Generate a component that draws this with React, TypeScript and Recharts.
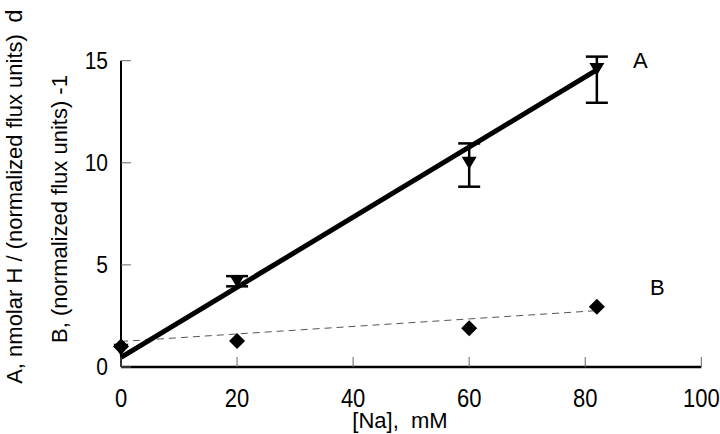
import React from "react";
import {
  ComposedChart,
  Scatter,
  Line,
  XAxis,
  YAxis,
  ErrorBar,
  ReferenceLine,
  Customized,
} from "recharts";

// Series A: nmolar H / (normalized flux units)
const seriesA = [
  { x: 0, y: 0.85 },
  { x: 20, y: 4.2, err: [0.25, 0.25] },
  { x: 60, y: 10.0, err: [1.17, 0.95] },
  { x: 82, y: 14.6, err: [1.66, 0.6] },
];
// Series B: (normalized flux units) -1
const seriesB = [
  { x: 0, y: 1.0 },
  { x: 20, y: 1.27 },
  { x: 60, y: 1.9 },
  { x: 82, y: 2.95 },
];
// Linear fits
const fitA = [
  { x: 0, y: 0.47 },
  { x: 82, y: 14.55 },
];
const fitB = [
  { x: 0, y: 1.25 },
  { x: 82, y: 2.76 },
];
const xTicks = [0, 20, 40, 60, 80, 100];
const yTicks = [0, 5, 10, 15];

const FONT = "'Liberation Sans', Arial, Helvetica, sans-serif";

const XTick = (props: any) => {
  const { x, y, payload } = props;
  return (
    <g>
      <line x1={x} x2={x} y1={y} y2={y - 10} stroke="#666" strokeWidth={1} />
      <text
        transform={`translate(${x},${y + 40}) scale(1,1.15)`}
        textAnchor="middle"
        fontSize={22}
        fontFamily={FONT}
        fill="#000"
      >
        {payload.value}
      </text>
    </g>
  );
};

const YTick = (props: any) => {
  const { x, y, payload } = props;
  return (
    <g>
      <line x1={x} x2={x + 10} y1={y} y2={y} stroke="#666" strokeWidth={1} />
      <text
        transform={`translate(${x - 13},${y + 8}) scale(1,1.1)`}
        textAnchor="end"
        fontSize={21}
        fontFamily={FONT}
        fill="#000"
      >
        {payload.value}
      </text>
    </g>
  );
};

const TriangleDown = (props: any) => {
  const { cx, cy } = props;
  if (cx == null || cy == null) return null;
  return (
    <polygon
      points={`${cx - 7.5},${cy - 6} ${cx + 7.5},${cy - 6} ${cx},${cy + 6.5}`}
      fill="#000"
    />
  );
};

const Diamond = (props: any) => {
  const { cx, cy } = props;
  if (cx == null || cy == null) return null;
  return (
    <polygon
      points={`${cx},${cy - 8} ${cx + 8},${cy} ${cx},${cy + 8} ${cx - 8},${cy}`}
      fill="#000"
    />
  );
};

const Labels = () => (
  <g fontFamily={FONT} fill="#000">
    <text transform="translate(22,209) rotate(-90)" textAnchor="middle" fontSize={22}>
      A, nmolar H / (normalized flux units)
    </text>
    <text transform="translate(66.5,209) rotate(-90)" textAnchor="middle" fontSize={22}>
      B, (normalized flux units) -1
    </text>
    <text transform="translate(22,16) rotate(-90)" textAnchor="middle" fontSize={24}>
      d
    </text>
    <text x={400} y={428} textAnchor="middle" fontSize={22} style={{ whiteSpace: "pre" }}>
      {"[Na],\u00a0 mM"}
    </text>
    <text x={633} y={68} fontSize={22}>
      A
    </text>
    <text x={650} y={295} fontSize={22}>
      B
    </text>
  </g>
);

export default function App() {
  return (
    <div style={{ position: "absolute", left: 0, top: 0, width: 720, height: 434, background: "#fff" }}>
      <ComposedChart
        width={720}
        height={434}
        margin={{ top: 50.5, right: 18.7, bottom: 7, left: 61 }}
      >
        <XAxis
          type="number"
          dataKey="x"
          domain={[0, 100]}
          ticks={xTicks}
          interval={0}
          tickSize={0}
          tickMargin={0}
          tickLine={false}
          tick={<XTick />}
          axisLine={{ stroke: "#000", strokeWidth: 2.5 }}
          height={60}
        />
        <YAxis
          type="number"
          dataKey="y"
          domain={[0, 15.5]}
          ticks={yTicks}
          interval={0}
          tickSize={0}
          tickMargin={0}
          tickLine={false}
          tick={<YTick />}
          axisLine={false}
          width={60}
        />
        <ReferenceLine
          segment={[
            { x: 0, y: 0 },
            { x: 0, y: 15 },
          ]}
          stroke="#000"
          strokeWidth={2}
        />
        <Line
          data={fitB}
          dataKey="y"
          type="linear"
          stroke="#555"
          strokeWidth={1}
          strokeDasharray="7 5"
          dot={false}
          activeDot={false}
          isAnimationActive={false}
        />
        <Line
          data={fitA}
          dataKey="y"
          type="linear"
          stroke="#000"
          strokeWidth={5}
          dot={false}
          activeDot={false}
          isAnimationActive={false}
        />
        <Scatter data={seriesB} dataKey="y" shape={<Diamond />} isAnimationActive={false} />
        <Scatter data={seriesA} dataKey="y" shape={<TriangleDown />} isAnimationActive={false}>
          <ErrorBar dataKey="err" direction="y" width={11} stroke="#000" strokeWidth={2.5} />
        </Scatter>
        <Customized component={<Labels />} />
      </ComposedChart>
    </div>
  );
}
